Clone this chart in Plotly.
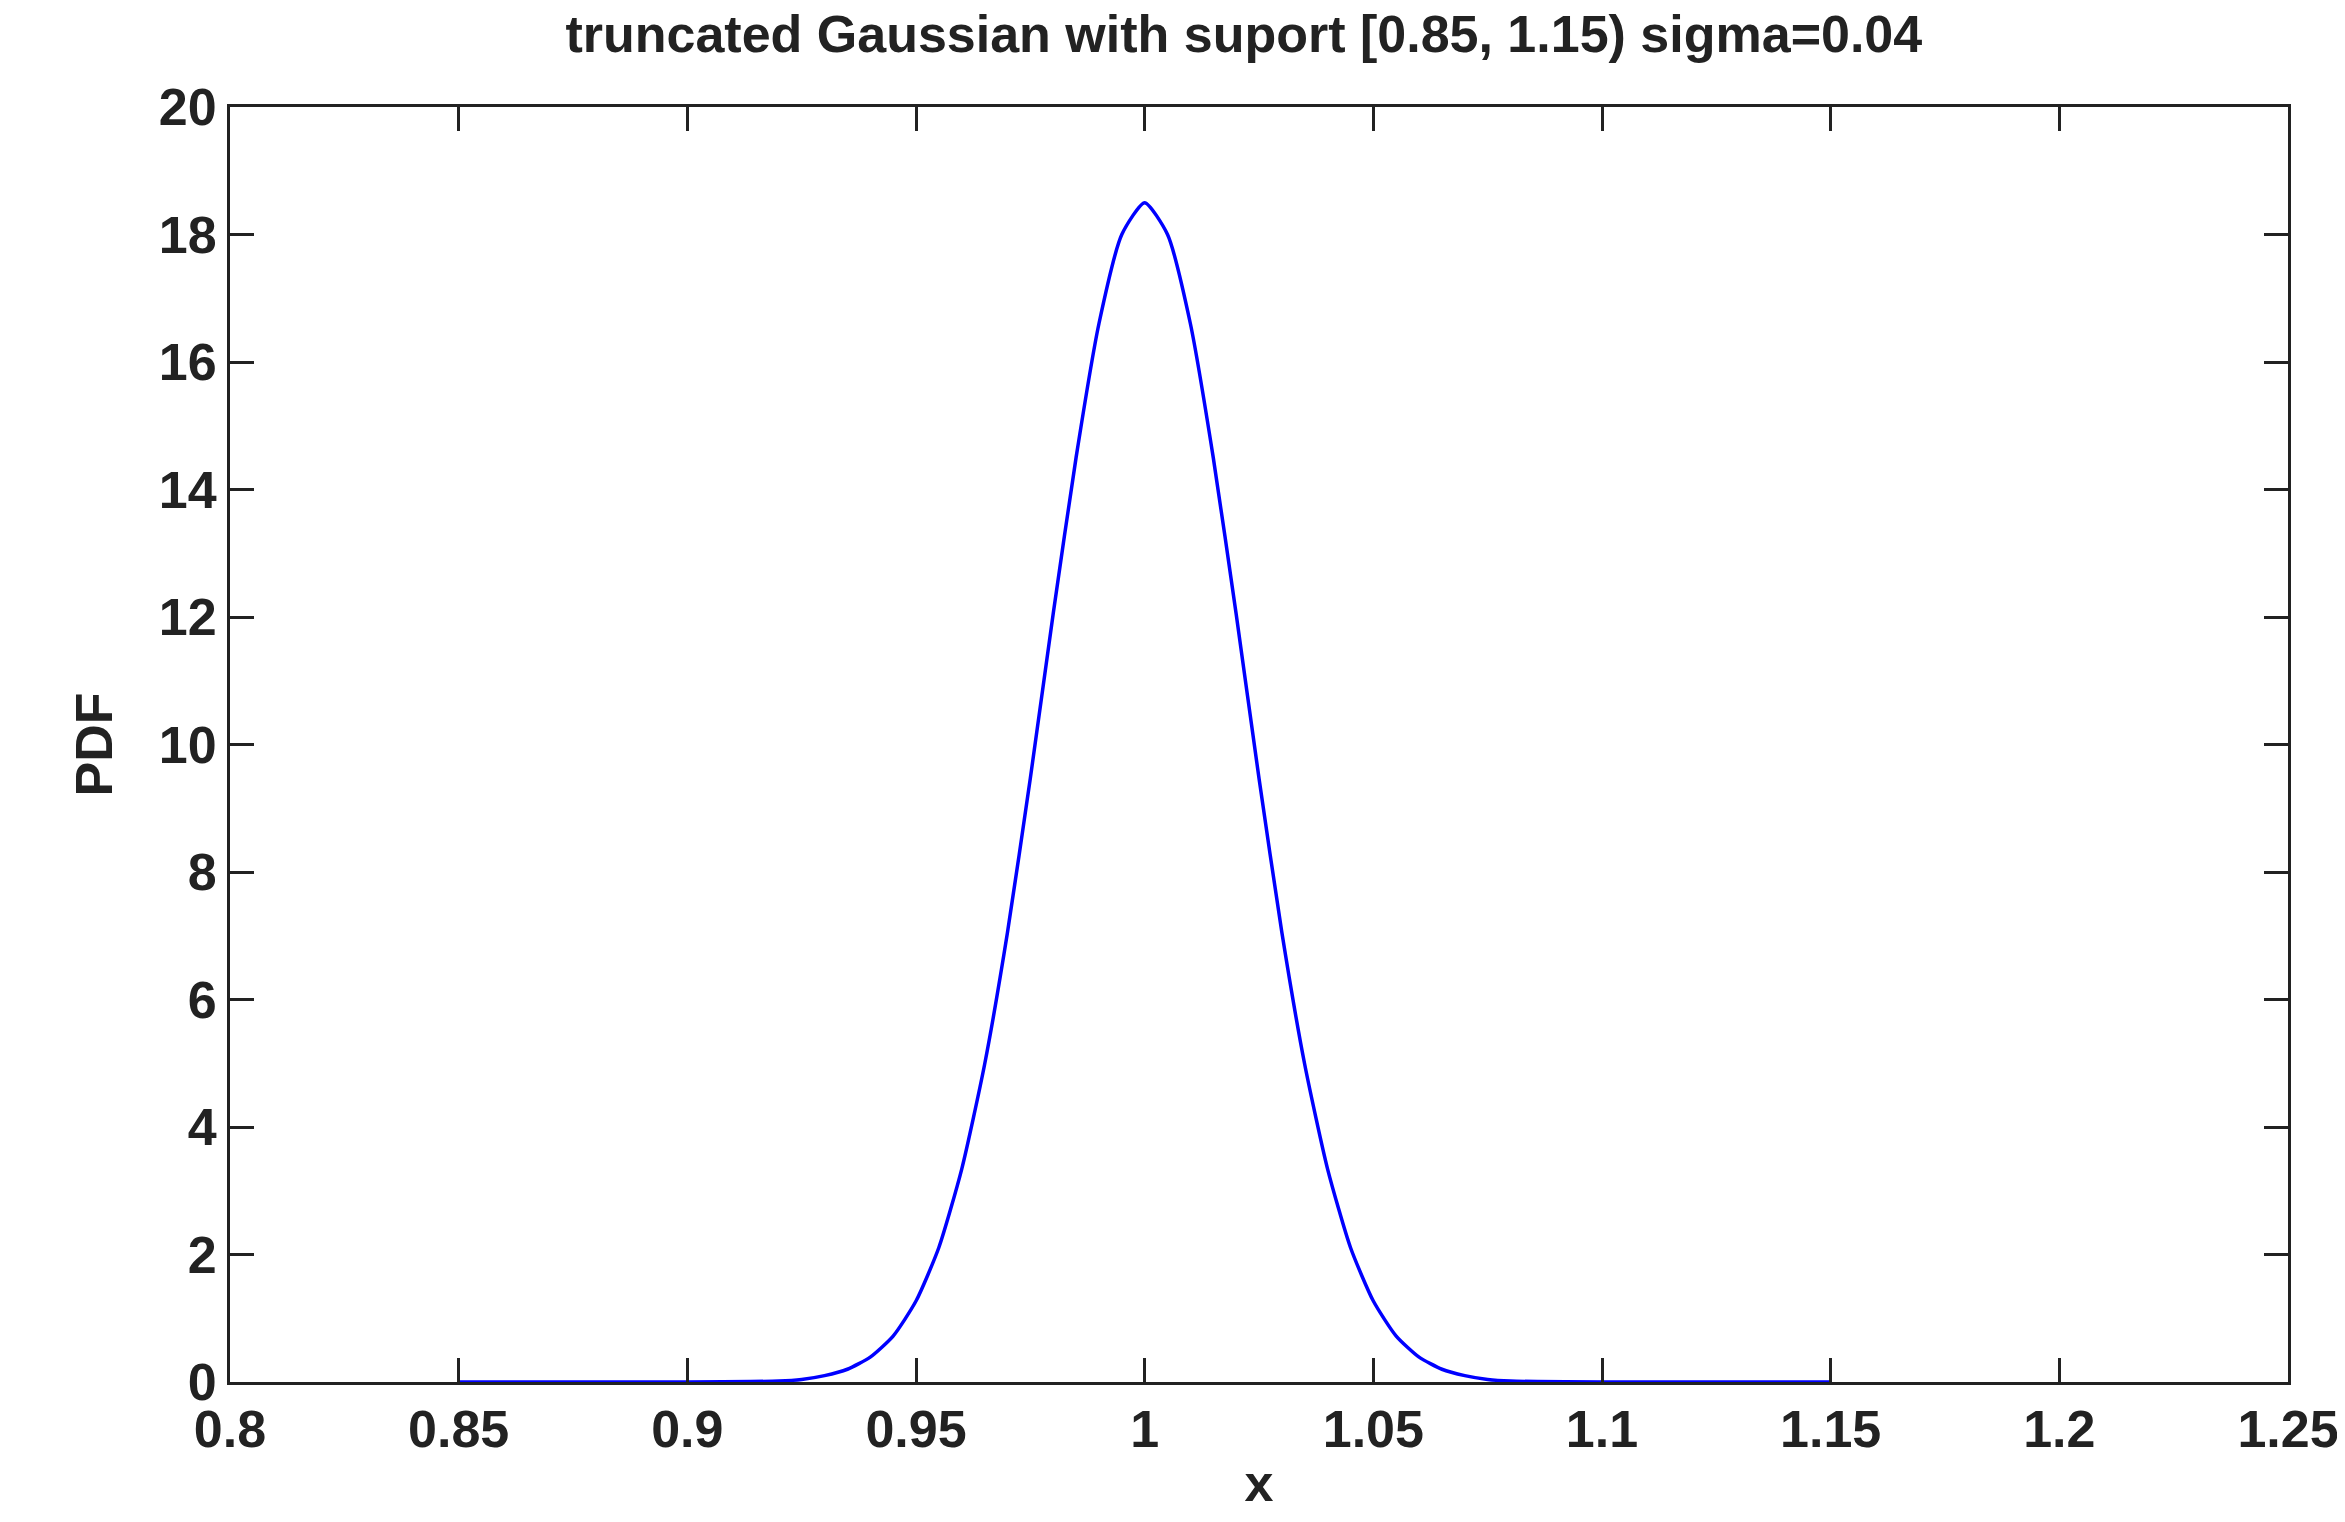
import plotly.graph_objects as go

# PDF values (symmetric around x = 1)
x = [0.85, 0.90, 0.92, 0.925, 0.93, 0.935, 0.94, 0.945, 0.95, 0.955, 0.96, 0.965, 0.97, 0.975,
     0.98, 0.985, 0.99, 0.995, 1.0, 1.005, 1.01, 1.015, 1.02, 1.025, 1.03, 1.035, 1.04,
     1.045, 1.05, 1.055, 1.06, 1.065, 1.07, 1.075, 1.08, 1.10, 1.15]
pdf = [0.0, 0.0, 0.015, 0.04, 0.1, 0.2, 0.39, 0.72, 1.27, 2.11, 3.34, 4.98, 7.05, 9.47,
       12.05, 14.5, 16.6, 18.0, 18.5, 18.0, 16.6, 14.5, 12.05, 9.47, 7.05, 4.98, 3.34,
       2.11, 1.27, 0.72, 0.39, 0.2, 0.1, 0.04, 0.015, 0.0, 0.0]

fig = go.Figure()
fig.add_scatter(x=x, y=pdf, mode='lines', line=dict(color='#0000ff', width=3.5, shape='spline', smoothing=0.6),
                showlegend=False)

font = dict(family='Liberation Sans, Arial', size=52, color='#222222', weight='bold')
axis = dict(showgrid=False, zeroline=False, showline=True, linecolor='#222222', linewidth=3,
            mirror='allticks', ticks='inside', ticklen=24, tickwidth=3, tickcolor='#222222',
            tickfont=font)

fig.update_layout(
    width=2345, height=1522,
    paper_bgcolor='white', plot_bgcolor='white',
    margin=dict(l=222, r=65, t=99, b=148),
    title=dict(text='truncated Gaussian with suport [0.85, 1.15) sigma=0.04',
               x=0.527, xanchor='center', y=0.995, yanchor='top', font=font),
    xaxis=dict(axis, range=[0.8, 1.25], tickvals=[0.8, 0.85, 0.9, 0.95, 1, 1.05, 1.1, 1.15, 1.2, 1.25],
               ticktext=['0.8', '0.85', '0.9', '0.95', '1', '1.05', '1.1', '1.15', '1.2', '1.25'],
               title=dict(text='x', font=font, standoff=8)),
    yaxis=dict(axis, range=[0, 20], dtick=2, title=dict(text='PDF', font=font, standoff=30)),
)

fig.write_html("out.html")
